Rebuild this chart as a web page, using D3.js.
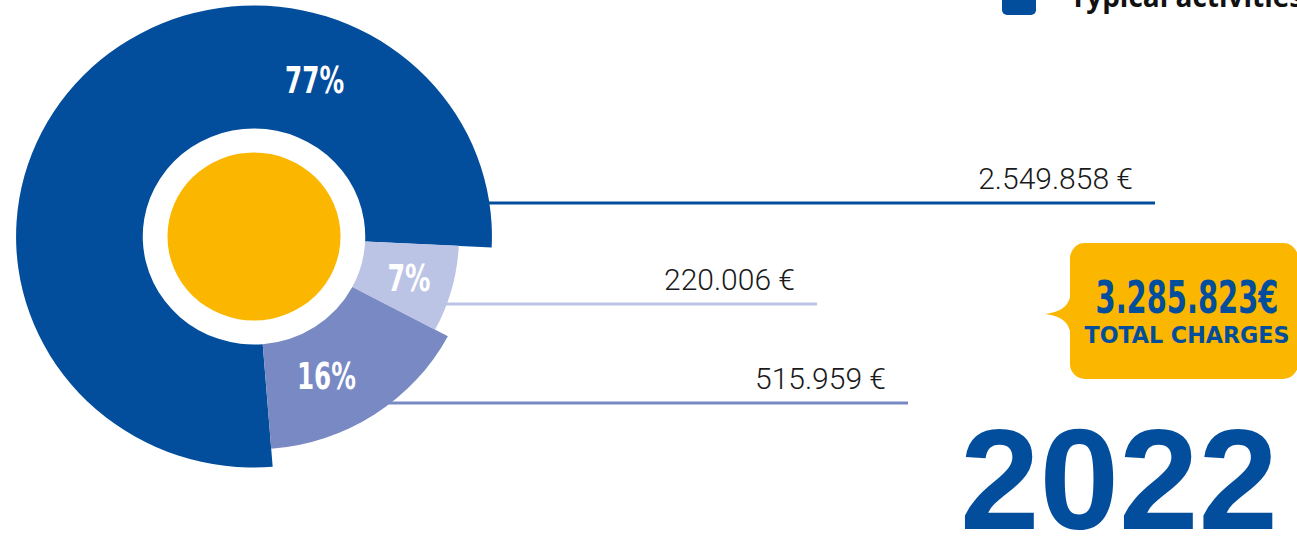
<!DOCTYPE html>
<html>
<head>
<meta charset="utf-8">
<style>
body { margin: 0; background: #fff; }
svg { display: block; }
.pct {
  font: bold 37px "Liberation Sans Narrow", "DejaVu Sans Condensed", "DejaVu Sans", sans-serif;
  font-stretch: condensed;
  fill: #fff;
  text-anchor: middle;
}
.amount {
  font: 300 30px Roboto, sans-serif;
  fill: #1a1a1a;
  text-anchor: end;
}
.legend text {
  font: bold 28px "Open Sans", sans-serif;
  fill: #111;
}
.total-value {
  font: bold 45px "Liberation Sans Narrow", "DejaVu Sans Condensed", "DejaVu Sans", sans-serif;
  font-stretch: condensed;
  fill: #034e9c;
  text-anchor: middle;
}
.total-label {
  font: bold 23px "Liberation Sans Narrow", "DejaVu Sans Condensed", "DejaVu Sans", sans-serif;
  font-stretch: condensed;
  fill: #034e9c;
  text-anchor: middle;
}
.year {
  font: bold 143px "Liberation Sans", Arial, sans-serif;
  fill: #034e9c;
  text-anchor: middle;
}
</style>
</head>
<body>
<svg width="1297" height="538"></svg>
<script src="https://cdn.jsdelivr.net/npm/d3@7"></script>
<script>

// data
var categories = ["Typical activities", "Second group", "Third group"];
var amounts = [2549858, 220006, 515959];
var shares = [77, 7, 16];
var year = "2022";
var totalLabel = "TOTAL CHARGES";

var svg = d3.select("svg");

var color = d3.scaleOrdinal()
  .domain(categories)
  .range(["#034e9c", "#bcc4e5", "#7889c3"]);

// each slice sticks out a different amount
var outer = d3.scaleOrdinal()
  .domain(categories)
  .range([231, 199, 213]);

var cx = 254, cy = 236.5, sx = 1.03;
var inner = 108;
var deg = Math.PI / 180;

var locale = d3.formatLocale({decimal: ",", thousands: ".", grouping: [3], currency: ["", "€"]});
var fmt = locale.format(",d");

var data = categories.map(function(c, i) {
  return {name: c, amount: amounts[i], share: shares[i]};
});

var pie = d3.pie()
  .sort(null)
  .value(function(d) { return d.share; })
  .startAngle(-184.5 * deg)
  .endAngle(-184.5 * deg + 2 * Math.PI);

var arcs = pie(data);

var arc = d3.arc()
  .innerRadius(inner)
  .outerRadius(function(d) { return outer(d.data.name); });

// leader lines + amounts (drawn first so the slices sit on top)
var leaderY = [203, 304, 403];
var leaderEnd = [1155, 817, 908];

var leaders = svg.append("g").attr("class", "leaders");
data.forEach(function(d, i) {
  var dy = leaderY[i] - cy;
  var r = outer(d.name);
  var x0 = cx + sx * Math.sqrt(r * r - dy * dy) - 6;
  leaders.append("line")
    .attr("x1", x0)
    .attr("x2", leaderEnd[i])
    .attr("y1", leaderY[i])
    .attr("y2", leaderY[i])
    .attr("stroke", color(d.name))
    .attr("stroke-width", 3);
  leaders.append("text")
    .attr("class", "amount")
    .attr("x", leaderEnd[i] - 22)
    .attr("y", leaderY[i] - 14)
    .text(fmt(d.amount) + " €");
});

var g = svg.append("g")
  .attr("transform", "translate(" + cx + "," + cy + ") scale(" + sx + ",1)");

g.selectAll(".slice")
  .data(arcs)
  .enter().append("path")
  .attr("class", "slice")
  .attr("d", arc)
  .attr("fill", function(d) { return color(d.data.name); });

g.append("circle")
  .attr("r", 84)
  .attr("fill", "#fbb600");

// percentage labels: big slice label sits near the top, the others near mid-angle
function labelPos(d, i) {
  var a = i === 0 ? 20.5 * deg : (d.startAngle + d.endAngle) / 2 + (i === 2 ? 6.5 * deg : 0);
  var r = i === 0 ? 168 : 156;
  return [cx + sx * r * Math.sin(a), cy - r * Math.cos(a)];
}

svg.selectAll(".pct")
  .data(arcs)
  .enter().append("text")
  .attr("class", "pct")
  .attr("x", function(d, i) { return labelPos(d, i)[0]; })
  .attr("y", function(d, i) { return labelPos(d, i)[1] + 13.5; })
  .attr("textLength", function(d) { return String(d.data.share).length * 16 + 27; })
  .attr("lengthAdjust", "spacingAndGlyphs")
  .text(function(d) { return d.data.share + "%"; });

// legend (cut by the top edge)
var legend = svg.append("g").attr("class", "legend");
legend.append("rect")
  .attr("x", 1002).attr("y", -20)
  .attr("width", 34).attr("height", 35)
  .attr("rx", 5)
  .attr("fill", color(categories[0]));
legend.append("text")
  .attr("x", 1070).attr("y", 7)
  .text(categories[0]);

// total callout
var callout = svg.append("g").attr("class", "callout");
callout.append("rect")
  .attr("x", 1070).attr("y", 243)
  .attr("width", 228).attr("height", 136)
  .attr("rx", 15)
  .attr("fill", "#fbb600");
callout.append("path")
  .attr("d", "M1071,289 C1071,305 1062,312 1045,314 C1062,316 1071,323 1071,339 Z")
  .attr("fill", "#fbb600");
callout.append("text")
  .attr("class", "total-value")
  .attr("x", 1187).attr("y", 313)
  .attr("textLength", 183)
  .attr("lengthAdjust", "spacingAndGlyphs")
  .text(fmt(d3.sum(amounts)) + "€");
callout.append("text")
  .attr("class", "total-label")
  .attr("x", 1187).attr("y", 343)
  .attr("textLength", 205)
  .attr("lengthAdjust", "spacingAndGlyphs")
  .text(totalLabel);

svg.append("text")
  .attr("class", "year")
  .attr("x", 1119).attr("y", 529)
  .text(year);

</script>
</body>
</html>
